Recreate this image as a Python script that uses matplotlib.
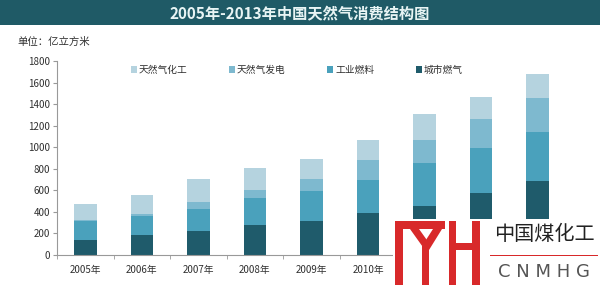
import matplotlib.pyplot as plt
from matplotlib.patches import Patch, Rectangle, Polygon

plt.rcParams['font.family'] = ['Noto Sans CJK SC', 'DejaVu Sans']

# 数据（亿立方米）
years = ['2005年', '2006年', '2007年', '2008年', '2009年', '2010年', '2011年', '2012年', '2013年']
city_gas = [135, 182, 226, 278, 313, 387, 458, 573, 687]
industry = [177, 176, 201, 254, 278, 309, 393, 417, 457]
power = [15, 25, 68, 71, 117, 186, 216, 272, 316]
chemical = [146, 177, 208, 207, 180, 185, 238, 207, 220]

series = [('城市燃气', city_gas, '#1f5b6b'),
          ('工业燃料', industry, '#4aa1bc'),
          ('天然气发电', power, '#7eb9cf'),
          ('天然气化工', chemical, '#b5d3df')]

fig = plt.figure(figsize=(6, 2.85), dpi=100)
fig.patch.set_facecolor('white')

# 标题栏
fig.patches.append(Rectangle((0, 1 - 25 / 285), 1, 25 / 285, transform=fig.transFigure,
                             facecolor='#1f5a66', edgecolor='none', zorder=0))
fig.text(0.5, 1 - 13 / 285, '2005年-2013年中国天然气消费结构图', ha='center', va='center',
         color='#e8f4f4', fontsize=11, fontweight='bold')
fig.text(17 / 600, 1 - 42 / 285, '单位：亿立方米', ha='left', va='center', fontsize=7.5, color='#303030')

ax = fig.add_axes([57 / 600, 1 - 255 / 285, 509 / 600, 194 / 285])
x = list(range(len(years)))
bottom = [0] * len(years)
for name, vals, color in series:
    ax.bar(x, vals, width=0.4, bottom=bottom, color=color, label=name, zorder=2)
    bottom = [b + v for b, v in zip(bottom, vals)]

ax.set_xlim(-0.5, len(years) - 0.5)
ax.set_ylim(0, 1800)
ax.set_yticks(range(0, 1801, 200))
ax.set_xticks(x)
ax.set_xticklabels(years)
ax.set_xticks([i - 0.5 for i in range(len(years) + 1)], minor=True)
ax.tick_params(axis='x', which='major', length=0, pad=7, labelsize=7, labelcolor='#303030')
ax.tick_params(axis='x', which='minor', length=3, color='#999999')
ax.tick_params(axis='y', length=3, color='#999999', labelsize=7, labelcolor='#303030', pad=2)
for s in ['top', 'right']:
    ax.spines[s].set_visible(False)
for s in ['left', 'bottom']:
    ax.spines[s].set_color('#999999')
    ax.spines[s].set_linewidth(0.8)
# 2011-2013 的年份标签被水印遮住
for lab in ax.get_xticklabels()[6:]:
    lab.set_visible(False)

handles = [Patch(facecolor=c, label=n) for n, v, c in series[::-1]]
fig.legend(handles=handles, loc='center left', bbox_to_anchor=(122 / 600, 1 - 70 / 285), ncol=4,
           frameon=False, fontsize=7, handlelength=0.6, handleheight=0.6, handletextpad=0.2,
           columnspacing=4.3, labelcolor='#303030')

# 右下角水印
fig.patches.append(Rectangle((393 / 600, 0), 207 / 600, 66 / 285, transform=fig.transFigure,
                             facecolor='white', edgecolor='none', zorder=5))
red = '#d8292a'
def px(xp, yp):
    return (xp / 600, 1 - yp / 285)
shapes = [
    [px(395, 221), px(403, 221), px(403, 285), px(395, 285)],
    [px(395, 221), px(445, 221), px(445, 229), px(395, 229)],
    [px(410, 229), px(419, 229), px(429, 243), px(425, 250)],
    [px(433, 229), px(442, 229), px(429, 250), px(424, 243)],
    [px(422, 246), px(429, 246), px(429, 285), px(422, 285)],
    [px(449, 221), px(456, 221), px(456, 285), px(449, 285)],
    [px(472, 221), px(480, 221), px(480, 285), px(472, 285)],
    [px(449, 243), px(480, 243), px(480, 250), px(449, 250)],
]
for pts in shapes:
    fig.patches.append(Polygon(pts, closed=True, transform=fig.transFigure,
                               facecolor=red, edgecolor='none', zorder=6))
fig.text(544 / 600, 1 - 235 / 285, '中国煤化工', ha='center', va='center', fontsize=14.5,
         color='#222222', zorder=7)
fig.patches.append(Rectangle((490 / 600, 1 - 256 / 285), 108 / 600, 1.2 / 285,
                             transform=fig.transFigure, facecolor=red, edgecolor='none', zorder=7))
fig.text(544 / 600, 1 - 272 / 285, 'C N M H G', ha='center', va='center', fontsize=13,
         color='#555555', zorder=7, family='DejaVu Sans')

fig.savefig('out.png', dpi=100)
